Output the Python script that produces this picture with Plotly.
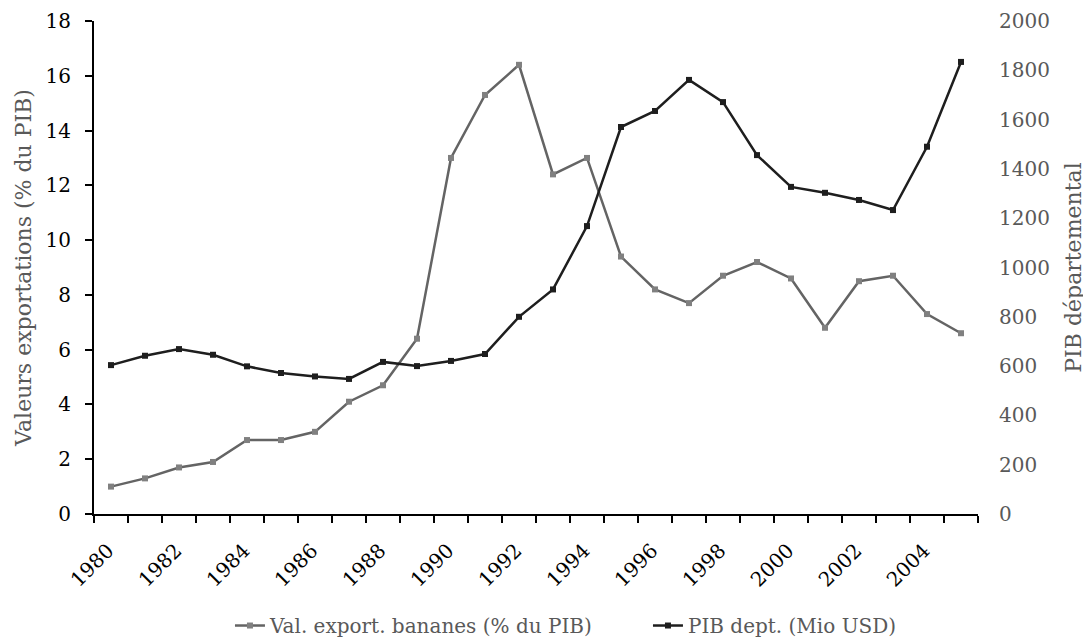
import plotly.graph_objects as go

years = list(range(1980, 2006))
bananes_pct = [1.0, 1.3, 1.7, 1.9, 2.7, 2.7, 3.0, 4.1, 4.7, 6.4, 13.0, 15.3, 16.4, 12.4, 13.0,
               9.4, 8.2, 7.7, 8.7, 9.2, 8.6, 6.8, 8.5, 8.7, 7.3, 6.6]
pib_dept = [604, 642, 669, 646, 599, 572, 558, 548, 617, 600, 621, 649, 800, 911, 1168,
            1570, 1635, 1761, 1671, 1456, 1327, 1303, 1274, 1233, 1490, 1834]
tick_years = list(range(1980, 2005, 2))
tick_labels = [str(y) for y in tick_years]

FONT = "DejaVu Serif"
GRAY = "#595959"

fig = go.Figure()
fig.add_trace(go.Scatter(
    x=years, y=bananes_pct, name="Val. export. bananes (% du PIB)",
    mode="lines+markers", line=dict(color="#646464", width=2.5),
    marker=dict(symbol="square", size=6, color="#808080"), yaxis="y"))
fig.add_trace(go.Scatter(
    x=years, y=pib_dept, name="PIB dept. (Mio USD)",
    mode="lines+markers", line=dict(color="#1e1e1e", width=2.5),
    marker=dict(symbol="square", size=6, color="#1e1e1e"), yaxis="y2"))

fig.update_layout(
    width=1083, height=637,
    margin=dict(l=86, r=113, t=13, b=131),
    paper_bgcolor="white", plot_bgcolor="white",
    font=dict(family=FONT, size=20, color="black"),
    showlegend=True,
    legend=dict(orientation="h", x=0.1538, xanchor="left", xref="paper",
                y=0.0612, yanchor="top", yref="container",
                font=dict(family=FONT, size=20, color=GRAY), traceorder="normal",
                entrywidth=373, entrywidthmode="pixels"),
    xaxis=dict(range=[1979.5, 2005.5], tickmode="array", tickvals=tick_years,
               ticktext=tick_labels, tickangle=-45, ticks="", showgrid=False,
               zeroline=False, showline=True, linecolor="black", linewidth=2,
               automargin=False, ticklabelstandoff=15, ticklabelshift=-3,
               tickfont=dict(family=FONT, size=20, color="black"),
               minor=dict(tickmode="linear", tick0=1979.5, dtick=1, ticks="outside",
                          ticklen=7, tickwidth=2, tickcolor="black", showgrid=False)),
    yaxis=dict(range=[0, 18], dtick=2, showgrid=False, zeroline=False,
               showline=True, linecolor="black", linewidth=2, ticks="outside",
               ticklen=7, tickwidth=2, tickcolor="black", automargin=False,
               ticklabelstandoff=10,
               tickfont=dict(family=FONT, size=20, color="black"),
               title=dict(text="Valeurs exportations (% du PIB)",
                          font=dict(family=FONT, size=22, color=GRAY), standoff=8)),
    yaxis2=dict(range=[0, 2000], dtick=200, overlaying="y", side="right",
                showgrid=False, zeroline=False, showline=False, ticks="",
                automargin=False, ticklabelstandoff=20,
                tickfont=dict(family=FONT, size=20, color=GRAY),
                title=dict(text="PIB départemental",
                           font=dict(family=FONT, size=22, color=GRAY), standoff=16)),
)

fig.write_html("out.html")
